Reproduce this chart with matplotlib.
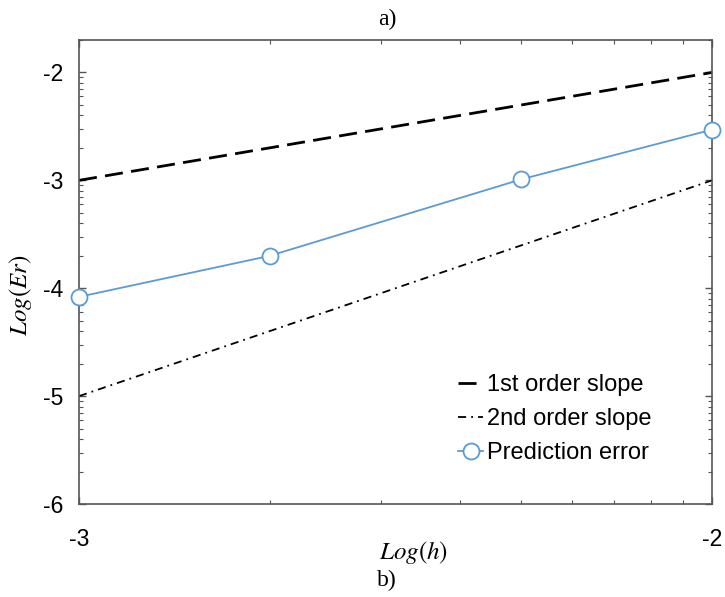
import matplotlib
matplotlib.use("Agg")
import matplotlib.pyplot as plt
import matplotlib.ticker as mticker
import numpy as np

# data (log10 values)
h_err = [1e-3, 2e-3, 5e-3, 1e-2]
log_err = [-4.08, -3.70, -2.99, -2.53]
h_slope = [1e-3, 1e-2]
first_order = [1e-3, 1e-2]
second_order = [1e-5, 1e-3]

plt.rcParams['font.family'] = ['Liberation Sans', 'DejaVu Sans']
plt.rcParams['mathtext.fontset'] = 'stix'

W, H = 725, 597
fig = plt.figure(figsize=(7.25, 5.97), dpi=100)
ax = fig.add_axes([79/W, 1 - 504/H, (712-79)/W, (504-40)/H])

err = [10**v for v in log_err]
ax.plot(h_slope, first_order, color='black', lw=2.0, dashes=(6.5, 3), label='1st order slope')
ax.plot(h_slope, second_order, color='black', lw=1.3, dashes=(4.5, 2.8, 1, 2.8), label='2nd order slope')
ax.plot(h_err, err, color='#5b9bd5', lw=1.3, marker='o', markersize=11.5,
        markerfacecolor='white', markeredgecolor='#5b9bd5', markeredgewidth=1.3,
        label='Prediction error', clip_on=False, zorder=5)

ax.set_xscale('log')
ax.set_yscale('log')
ax.set_xlim(1e-3, 1e-2)
ax.set_ylim(1e-6, 2e-2)

fmt = mticker.FuncFormatter(lambda v, pos: "%d" % int(round(np.log10(v))))
ax.xaxis.set_major_formatter(fmt)
ax.yaxis.set_major_formatter(fmt)
ax.xaxis.set_minor_formatter(mticker.NullFormatter())
ax.yaxis.set_minor_formatter(mticker.NullFormatter())

ax.tick_params(which='both', direction='in', top=True, right=True, colors='#555555',
               labelcolor='black', labelsize=16.5)
ax.tick_params(which='major', length=5, width=1)
ax.tick_params(which='minor', length=3, width=0.8)
ax.tick_params(axis='x', pad=17)
ax.tick_params(axis='y', pad=11)
for s in ax.spines.values():
    s.set_color('#555555')
    s.set_linewidth(1.2)

ax.set_xlabel(r'$Log(h)$', fontsize=18)
ax.xaxis.set_label_coords((414-79)/(712-79), -(552-504)/(504-40))
ax.xaxis.label.set_va('center')
ax.set_ylabel(r'$Log(Er)$', fontsize=18)
ax.yaxis.set_label_coords(-(79-21)/(712-79), (504-295)/(504-40))
ax.yaxis.label.set_va('center')

fig.text(387/W, 1 - 19/H, 'a)', ha='center', va='center', fontsize=17, family='Liberation Serif')
fig.text(387/W, 1 - 580/H, 'b)', ha='center', va='center', fontsize=17, family='Liberation Serif')

ax.legend(loc='upper left', bbox_to_anchor=(437/W, 1 - 353/H), bbox_transform=fig.transFigure,
          frameon=False, fontsize=17, handlelength=1.05, handletextpad=0.15, labelspacing=0.5)

fig.savefig('out.png', dpi=100)
